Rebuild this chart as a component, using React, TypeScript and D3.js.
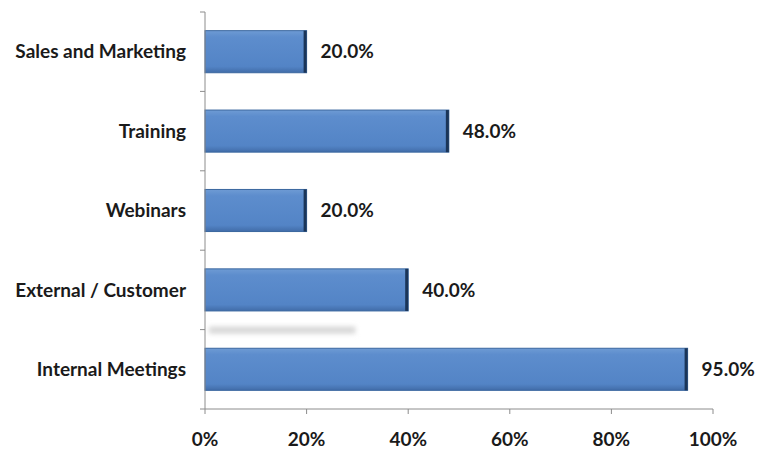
import React from "react";
import * as d3 from "d3";

const categories = ["Sales and Marketing", "Training", "Webinars", "External / Customer", "Internal Meetings"];
const values = [20.0, 48.0, 20.0, 40.0, 95.0];
const xTicks = [0, 20, 40, 60, 80, 100];

const W = 758, H = 452;
const M = { left: 205, right: 45, top: 12, bottom: 43 };

export default function App() {
  const x = d3.scaleLinear().domain([0, 100]).range([M.left, W - M.right]);
  const y = d3.scaleBand<string>().domain(categories).range([M.top, H - M.bottom]).paddingInner(0.47).paddingOuter(0.235);
  const yb = d3.scaleBand<string>().domain(categories).range([M.top, H - M.bottom]);
  const font = "Lato, 'Open Sans', sans-serif";
  const fs = 19;
  const fw = 700;
  const axisColor = "#8c8c8c";
  const y0 = H - M.bottom;
  return (
    <div style={{ position: "absolute", left: 0, top: 0 }}>
      <svg width={W} height={H} style={{ display: "block", background: "#fff" }}>
        <defs>
          <linearGradient id="barg" x1="0" y1="0" x2="0" y2="1">
            <stop offset="0" stopColor="#6e9bd4" />
            <stop offset="0.15" stopColor="#5d8dcd" />
            <stop offset="0.85" stopColor="#5384c6" />
            <stop offset="1" stopColor="#416ca8" />
          </linearGradient>
          <filter id="blur" x="-20%" y="-200%" width="140%" height="500%">
            <feGaussianBlur stdDeviation="2.5" />
          </filter>
        </defs>
        {/* faint shadow artifact */}
        <rect x={x(0) + 4} y={yb("Internal Meetings")! - 3} width={x(30) - x(0) - 6} height={7} fill="#d6d6d6" filter="url(#blur)" />
        {categories.map((c, i) => {
          const by = y(c)!;
          const bh = y.bandwidth();
          const xe = x(values[i]);
          return (
            <g key={c}>
              <rect x={x(0)} y={by} width={xe - x(0)} height={bh} fill="url(#barg)" stroke="#3a679f" strokeWidth={1} />
              <rect x={xe - 3} y={by} width={3} height={bh} fill="#1b3558" />
              <text x={xe + 14} y={by + bh / 2} dy="0.35em" fontFamily={font} fontSize={fs} fontWeight={fw} fill="#1a1a1a">
                {values[i].toFixed(1) + "%"}
              </text>
              <text x={M.left - 19} y={by + bh / 2} dy="0.35em" textAnchor="end" fontFamily={font} fontSize={fs} fontWeight={fw} fill="#1a1a1a">
                {c}
              </text>
            </g>
          );
        })}
        {/* y axis */}
        <line x1={x(0)} x2={x(0)} y1={M.top} y2={y0} stroke={axisColor} />
        {categories.map((c) => (
          <line key={c} x1={x(0) - 5} x2={x(0)} y1={yb(c)!} y2={yb(c)!} stroke={axisColor} />
        ))}
        <line x1={x(0) - 5} x2={x(0)} y1={y0} y2={y0} stroke={axisColor} />
        {/* x axis */}
        <line x1={x(0)} x2={x(100)} y1={y0} y2={y0} stroke={axisColor} />
        {xTicks.map((t) => (
          <g key={t}>
            <line x1={x(t)} x2={x(t)} y1={y0} y2={y0 + 5} stroke={axisColor} />
            <text x={x(t)} y={y0 + 37} textAnchor="middle" fontFamily={font} fontSize={fs} fontWeight={fw} fill="#1a1a1a">
              {t + "%"}
            </text>
          </g>
        ))}
      </svg>
    </div>
  );
}
